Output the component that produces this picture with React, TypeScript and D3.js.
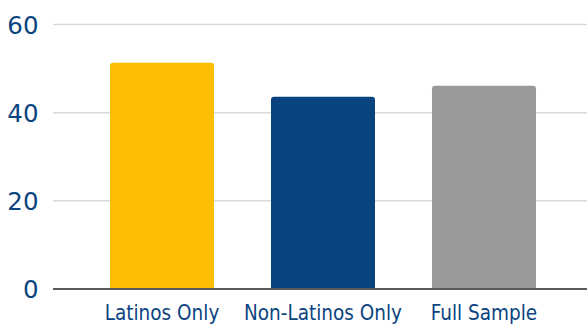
import React from "react";
import * as d3 from "d3";

const categories = ["Latinos Only", "Non-Latinos Only", "Full Sample"];
const values = [51.3, 43.6, 46.1];
const colors = ["#FBBE00", "#0A4480", "#999999"];
const yTicks = [0, 20, 40, 60];

export default function App() {
  const W = 587, H = 324;
  const gridLeft = 53;
  const x = d3.scaleBand<string>().domain(categories).range([81.5, 564.5]).paddingInner(0.354).paddingOuter(0.177);
  const y = d3.scaleLinear().domain([0, 60]).range([289, 24.5]);
  const r = 3;
  const barPath = (x0: number, w: number, y0: number, y1: number) =>
    `M${x0},${y1} L${x0},${y0 + r} Q${x0},${y0} ${x0 + r},${y0} L${x0 + w - r},${y0} Q${x0 + w},${y0} ${x0 + w},${y0 + r} L${x0 + w},${y1} Z`;
  return (
    <svg width={W} height={H} style={{ position: "absolute", left: 0, top: 0 }} fontFamily="DejaVu Sans">
      {yTicks.filter(t => t > 0).map(t => (
        <line key={t} x1={gridLeft} x2={W} y1={y(t)} y2={y(t)} stroke="#D9D9D9" strokeWidth={1.5} />
      ))}
      {categories.map((c, i) => (
        <path key={c} d={barPath(x(c)!, x.bandwidth(), y(values[i]), y(0))} fill={colors[i]} />
      ))}
      <line x1={gridLeft} x2={W} y1={y(0)} y2={y(0)} stroke="#595959" strokeWidth={2} />
      {yTicks.map(t => (
        <text key={t} x={38.5} y={y(t) + 9} textAnchor="end" fontSize={24.5} fill="#0B4480">{t}</text>
      ))}
      {categories.map(c => (
        <text key={c} x={x(c)! + x.bandwidth() / 2} y={320} textAnchor="middle" fontSize={20.5} fill="#0B4480" fontFamily="DejaVu Sans Condensed" fontStretch="condensed">{c}</text>
      ))}
    </svg>
  );
}
